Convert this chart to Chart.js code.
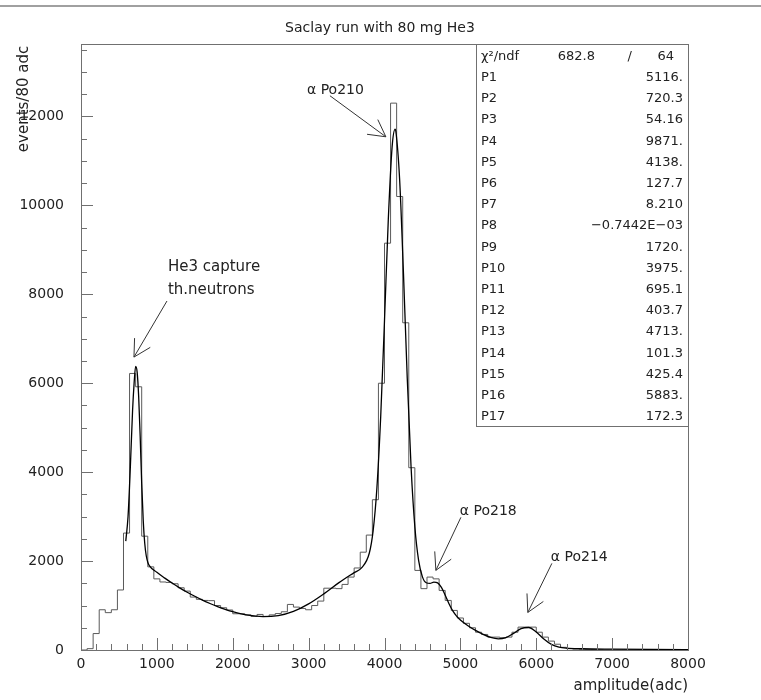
<!DOCTYPE html>
<html><head><meta charset="utf-8">
<script src="https://cdn.jsdelivr.net/npm/chart.js@4.4.1/dist/chart.umd.min.js"></script>
<style>
html,body{margin:0;padding:0;background:#fff;}
#wrap{position:relative;width:761px;height:700px;overflow:hidden;}
#topline{position:absolute;left:0;top:5px;width:761px;height:2px;background:#a0a0a0;}
canvas{position:absolute;left:0;top:0;}
</style></head><body>
<div id="wrap"><canvas id="c" width="761" height="700"></canvas><div id="topline"></div></div>
<script>
// ---------- data ----------
const BIN_WIDTH = 80; // adc per bin
const counts = [
  0, 30, 370, 905, 840, 905, 1350, 2630, 6220, 5920,
  2560, 1870, 1600, 1530, 1520, 1490, 1400, 1325, 1190, 1140,
  1115, 1110, 1000, 950, 900, 815, 815, 790, 755, 800,
  755, 790, 820, 860, 1025, 965, 935, 905, 1000, 1100,
  1390, 1390, 1380, 1475, 1640, 1845, 2200, 2585, 3380, 6000,
  9150, 12300, 10200, 7360, 4100, 1790, 1380, 1640, 1600, 1340,
  1115, 890, 720, 600, 500, 400, 350, 290, 290, 275,
  290, 400, 515, 515, 515, 400, 290, 200, 130, 60,
  30, 20, 15, 10, 10, 8, 5, 5, 4, 3,
  3, 2, 2, 2, 1, 1, 1, 0, 0, 0
];
const fitX = [590, 620, 650, 680, 700, 720, 740, 760, 780, 800, 820, 840, 860, 880, 900,
  1000, 1100, 1200, 1300, 1400, 1500, 1600, 1700, 1800, 1900, 2000, 2200, 2400, 2600, 2800,
  3000, 3200, 3400, 3600, 3700, 3800, 3850, 3900, 3950, 4000, 4050, 4100, 4140, 4150, 4200,
  4250, 4300, 4350, 4400, 4450, 4500, 4550, 4600, 4650, 4700, 4750, 4800, 4850, 4900, 4950,
  5000, 5100, 5200, 5300, 5400, 5500, 5600, 5700, 5800, 5900, 6000, 6100, 6200, 6300, 6400,
  6600, 7000, 7500, 8000];
const fitY = [2450, 3000, 4100, 5400, 6000, 6380, 6250, 5700, 4800, 3750, 2920, 2400, 2120, 1975, 1900,
  1748, 1622, 1506, 1398, 1300, 1208, 1123, 1046, 977, 915, 861, 782, 749, 774, 870,
  1038, 1263, 1515, 1741, 1852, 2181, 2680, 3650, 5253, 7412, 9676, 11311, 11713, 11662, 10567,
  8465, 6106, 4121, 2771, 2010, 1644, 1512, 1499, 1525, 1509, 1409, 1232, 1041, 878, 762,
  676, 547, 441, 352, 284, 252, 279, 374, 483, 506, 405, 247, 125, 63, 40,
  28, 20, 14, 10];
const xTickLabels = [0, 1000, 2000, 3000, 4000, 5000, 6000, 7000, 8000];
const yTickLabels = [0, 2000, 4000, 6000, 8000, 10000, 12000];
const statNames  = ['P1','P2','P3','P4','P5','P6','P7','P8','P9','P10','P11','P12','P13','P14','P15','P16','P17'];
const statValues = ['5116.','720.3','54.16','9871.','4138.','127.7','8.210','\u22120.7442E\u221203','1720.','3975.','695.1','403.7','4713.','101.3','425.4','5883.','172.3'];
const chi2 = '682.8', ndf = '64';
// annotations in data units: text lines, text anchor, arrow tail, arrow tip
const annotations = [
  {lines:['He3 capture','th.neutrons'], tx:1146, ty:[8615, 8097], fx:1133, fy:7849, ax:698, ay:6588, size:15},
  {lines:['\u03b1 Po210'], tx:2978, ty:[12579], fx:3281, fy:12466, ax:4018, ay:11543, size:14},
  {lines:['\u03b1 Po218'], tx:4993, ty:[3119], fx:5007, fy:2984, ax:4677, ay:1791, size:14},
  {lines:['\u03b1 Po214'], tx:6192, ty:[2083], fx:6206, fy:1948, ax:5889, ay:845, size:14}
];
const X_MAX = 8000, Y_MAX = 13630;

// ---------- build datasets ----------
const histPoints = counts.map((c, i) => ({x: i * BIN_WIDTH, y: c}));
histPoints.push({x: counts.length * BIN_WIDTH, y: counts[counts.length - 1]});
const fitPoints = fitX.map((x, i) => ({x: x, y: fitY[i]}));

const FONT = 'DejaVu Sans';
const AXIS = '#707070';
const TXT = '#222';

const decor = {
  id: 'decor',
  afterDraw(chart) {
    const ctx = chart.ctx, a = chart.chartArea;
    const xs = chart.scales.x, ys = chart.scales.y;
    ctx.save();
    // frame
    ctx.strokeStyle = AXIS; ctx.lineWidth = 1;
    ctx.strokeRect(Math.round(a.left) + 0.5, Math.round(a.top) + 0.5,
                   Math.round(a.right - a.left), Math.round(a.bottom - a.top));
    // y ticks
    ctx.beginPath();
    for (let v = 0; v <= Y_MAX; v += 500) {
      const y = Math.round(ys.getPixelForValue(v)) + 0.5;
      const len = (v % 2000 === 0) ? 12 : 6;
      ctx.moveTo(a.left, y); ctx.lineTo(a.left + len, y);
    }
    // x ticks
    for (let v = 0; v <= X_MAX; v += 200) {
      const x = Math.round(xs.getPixelForValue(v)) + 0.5;
      const len = (v % 1000 === 0) ? 12 : 6;
      ctx.moveTo(x, a.bottom); ctx.lineTo(x, a.bottom - len);
    }
    ctx.stroke();

    // stats box
    const bx0 = 476, by0 = Math.round(a.top), bx1 = Math.round(a.right), by1 = 426;
    ctx.fillStyle = '#fff';
    ctx.fillRect(bx0, by0 + 1, bx1 - bx0, by1 - by0);
    ctx.strokeStyle = AXIS;
    ctx.strokeRect(bx0 + 0.5, by0 + 0.5, bx1 - bx0, by1 - by0);
    ctx.fillStyle = TXT;
    ctx.font = '13px "' + FONT + '"';
    ctx.textBaseline = 'middle';
    const rowH = 21.2, row0 = 56.5;
    ctx.textAlign = 'left';
    ctx.fillText('\u03c7\u00b2/ndf', 481, row0);
    ctx.textAlign = 'right';
    ctx.fillText(chi2, 595, row0);
    ctx.fillText('/', 632, row0);
    ctx.fillText(ndf, 674, row0);
    statNames.forEach((n, i) => {
      const y = row0 + rowH * (i + 1);
      ctx.textAlign = 'left'; ctx.fillText(n, 481, y);
      ctx.textAlign = 'right'; ctx.fillText(statValues[i], 683, y);
    });

    // annotations
    ctx.strokeStyle = '#333'; ctx.lineWidth = 1;
    annotations.forEach(an => {
      ctx.font = an.size + 'px "' + FONT + '"';
      ctx.textAlign = 'left'; ctx.textBaseline = 'middle'; ctx.fillStyle = TXT;
      an.lines.forEach((t, k) => ctx.fillText(t, xs.getPixelForValue(an.tx), ys.getPixelForValue(an.ty[k])));
      const x0 = xs.getPixelForValue(an.fx), y0 = ys.getPixelForValue(an.fy);
      const x1 = xs.getPixelForValue(an.ax), y1 = ys.getPixelForValue(an.ay);
      const ang = Math.atan2(y0 - y1, x0 - x1);
      const hl = 19, ha = 0.5;
      ctx.beginPath();
      ctx.moveTo(x0, y0); ctx.lineTo(x1, y1);
      ctx.moveTo(x1 + hl * Math.cos(ang + ha), y1 + hl * Math.sin(ang + ha));
      ctx.lineTo(x1, y1);
      ctx.lineTo(x1 + hl * Math.cos(ang - ha), y1 + hl * Math.sin(ang - ha));
      ctx.stroke();
    });

    // title and axis titles
    ctx.fillStyle = TXT;
    ctx.font = '14px "' + FONT + '"';
    ctx.textAlign = 'center'; ctx.textBaseline = 'middle';
    ctx.fillText('Saclay run with 80 mg He3', 380, 28);
    ctx.font = '15px "' + FONT + '"';
    ctx.textAlign = 'right';
    ctx.fillText('amplitude(adc)', Math.round(a.right), 686);
    ctx.save();
    ctx.translate(24, 99);
    ctx.rotate(-Math.PI / 2);
    ctx.textAlign = 'center';
    ctx.fillText('events/80 adc', 0, 0);
    ctx.restore();
    ctx.restore();
  }
};

new Chart(document.getElementById('c'), {
  type: 'line',
  data: {
    datasets: [
      {label: 'fit', data: fitPoints, borderColor: '#000', borderWidth: 1.3, pointRadius: 0,
       cubicInterpolationMode: 'monotone', fill: false},
      {label: 'histogram', data: histPoints, borderColor: '#5a5a5a', borderWidth: 1, pointRadius: 0,
       stepped: 'before', fill: false}
    ]
  },
  options: {
    responsive: false, animation: false, devicePixelRatio: 1,
    layout: {padding: {left: 0, top: 44, right: 73, bottom: 0}},
    plugins: {legend: {display: false}, tooltip: {enabled: false}, title: {display: false}},
    scales: {
      x: {
        type: 'linear', min: 0, max: X_MAX,
        grid: {display: false, drawTicks: false}, border: {display: false},
        ticks: {stepSize: 1000, padding: 6, maxRotation: 0, autoSkip: false, color: TXT,
                font: {family: FONT, size: 14}, callback: v => String(v)},
        afterBuildTicks: s => { s.ticks = xTickLabels.map(v => ({value: v})); },
        afterFit: s => { s.height = 50; }
      },
      y: {
        type: 'linear', min: 0, max: Y_MAX,
        grid: {display: false, drawTicks: false}, border: {display: false},
        ticks: {stepSize: 2000, padding: 17, color: TXT,
                font: {family: FONT, size: 14}, callback: v => String(v)},
        afterBuildTicks: s => { s.ticks = yTickLabels.map(v => ({value: v})); },
        afterFit: s => { s.width = 81; }
      }
    }
  },
  plugins: [decor]
});
</script>
</body></html>
